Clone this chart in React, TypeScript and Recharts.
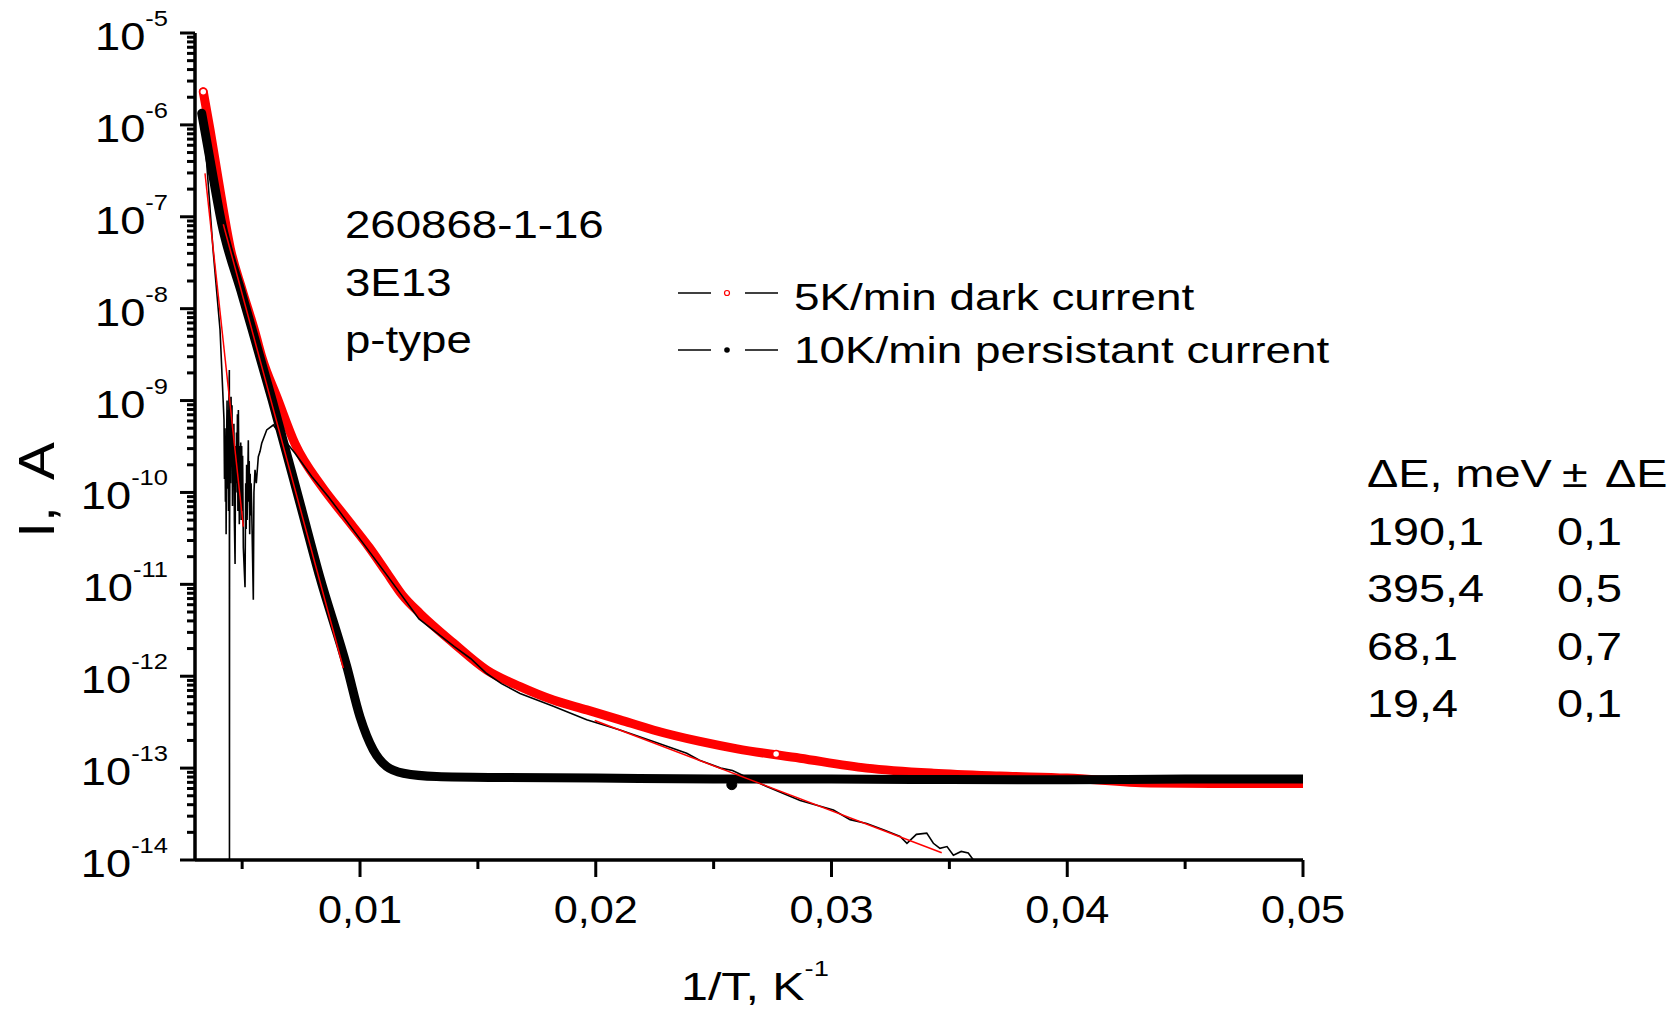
import React from "react";
import { ComposedChart, Line, XAxis, YAxis } from "recharts";

const FONT = '"Liberation Sans", Arial, Helvetica, sans-serif';
const W = 1679;
const H = 1017;

// 5K/min dark current (red open circles), I [A] vs 1/T [K^-1]
const darkT = [
  0.00335, 0.00364, 0.00399, 0.0045, 0.005, 0.00555, 0.00583, 0.0065, 0.00724,
  0.00838, 0.00936, 0.0104, 0.0111, 0.0118, 0.01255, 0.01396, 0.01537, 0.01679,
  0.0182, 0.01962, 0.02103, 0.02244, 0.02442, 0.026, 0.02867, 0.03149, 0.03432,
  0.03715, 0.03998, 0.04351, 0.04704, 0.05,
];
const darkI = [
  2.3e-6, 8.8e-7, 2.5e-7, 4.5e-8, 1.6e-8, 5.5e-9, 3.0e-9, 1.05e-9, 3.4e-10,
  1.16e-10, 5.5e-11, 2.5e-11, 1.38e-11, 7.6e-12, 4.8e-12, 2.3e-12, 1.17e-12,
  7.7e-13, 5.5e-13, 4.3e-13, 3.35e-13, 2.6e-13, 1.95e-13, 1.62e-13, 1.28e-13,
  1.0e-13, 8.8e-14, 8.2e-14, 7.8e-14, 6.9e-14, 6.8e-14, 6.8e-14,
];
// a few single hollow markers that stand out of the red band
const darkMarkT = [0.00335, 0.02765];
const darkMarkI = [2.3e-6, 1.42e-13];

// 10K/min persistant current (black dots)
const persistT = [
  0.003285, 0.00364, 0.00413, 0.005, 0.00627, 0.0075, 0.0083, 0.00944, 0.01,
  0.01056, 0.01113, 0.01184, 0.01325, 0.016, 0.02, 0.025, 0.03, 0.035, 0.04,
  0.045, 0.05,
];
const persistI = [
  1.34e-6, 4.15e-7, 8.5e-8, 1.41e-8, 1.02e-9, 6.9e-11, 1.19e-11, 1.27e-12,
  3.6e-13, 1.58e-13, 1.04e-13, 8.8e-14, 8.1e-14, 7.9e-14, 7.8e-14, 7.6e-14,
  7.6e-14, 7.5e-14, 7.45e-14, 7.6e-14, 7.6e-14,
];
const persistMarkT = [0.02577];
const persistMarkI = [6.6e-14];

// thin black trace (unlabelled measurement)
const traceT = [
  0.003285, 0.003497, 0.003765, 0.004062, 0.00423, 0.00425, 0.00427, 0.00429,
  0.00431, 0.00432, 0.00434, 0.00436, 0.00438, 0.0044, 0.00442, 0.00444,
  0.004457, 0.004462, 0.004466, 0.00449, 0.00451, 0.00453, 0.00455, 0.00457,
  0.00459, 0.00461, 0.00463, 0.00465, 0.00467, 0.0047, 0.00472, 0.00474,
  0.00476, 0.00478, 0.0048, 0.00482, 0.00484, 0.00486, 0.00488, 0.0049,
  0.00492, 0.00494, 0.00496, 0.00498, 0.005, 0.00502, 0.00505, 0.005122,
  0.00515, 0.00517, 0.00519, 0.00521, 0.005262, 0.00528, 0.0053, 0.00532,
  0.00534, 0.00536, 0.00538, 0.005406, 0.005474, 0.0055, 0.005546, 0.0056,
  0.005686, 0.00576, 0.00583, 0.006042, 0.006322, 0.006679, 0.007243,
  0.007951, 0.008656, 0.0094, 0.0111, 0.0125, 0.014, 0.0147, 0.01537, 0.016,
  0.016787, 0.0182, 0.019616, 0.021029, 0.022441, 0.023858, 0.0244, 0.0253,
  0.0258, 0.02725, 0.02867, 0.03008, 0.03079, 0.03149, 0.0322, 0.03291,
  0.0332, 0.0336, 0.03404, 0.03432, 0.0346, 0.0349, 0.03517, 0.0355, 0.0358,
  0.03602,
];
const traceI = [
  1.34e-6, 3.8e-7, 4.4e-8, 5.9e-9, 6.2e-10, 1.4e-10, 5.0e-10, 7.9e-11, 2.8e-10,
  3.5e-11, 4.0e-10, 1.0e-9, 1.1e-10, 7.9e-10, 6.3e-11, 1.26e-9, 2.15e-9,
  1.0e-14, 3.2e-11, 6.3e-10, 1.26e-10, 1.1e-9, 2.5e-10, 8.9e-10, 7.1e-11,
  5.0e-10, 1.26e-10, 5.6e-10, 5.0e-11, 1.66e-11, 3.2e-10, 1.0e-10, 4.5e-10,
  1.26e-10, 7.1e-10, 6.3e-11, 7.9e-10, 2.0e-10, 4.5e-11, 3.2e-10, 7.9e-11,
  3.5e-10, 5.0e-11, 3.2e-10, 6.3e-11, 2.5e-10, 2.5e-11, 9.3e-12, 1.26e-10,
  4.0e-11, 2.0e-10, 5.0e-11, 3.7e-10, 7.9e-11, 2.2e-10, 3.5e-11, 1.6e-10,
  5.6e-11, 1.26e-10, 6.5e-11, 6.8e-12, 1.0e-10, 1.76e-10, 1.26e-10, 2.45e-10,
  2.8e-10, 3.43e-10, 4.79e-10, 5.42e-10, 4.05e-10, 2.67e-10, 1.49e-10,
  9.0e-11, 5.0e-11, 1.3e-11, 4.2e-12, 2.1e-12, 1.55e-12, 1.07e-12, 8.3e-13,
  6.5e-13, 4.7e-13, 3.35e-13, 2.6e-13, 1.95e-13, 1.45e-13, 1.22e-13, 1.0e-13,
  9.4e-14, 6.3e-14, 4.45e-14, 3.5e-14, 2.75e-14, 2.5e-14, 2.13e-14, 1.8e-14,
  1.52e-14, 1.9e-14, 1.96e-14, 1.52e-14, 1.34e-14, 1.4e-14, 1.13e-14, 1.24e-14,
  1.19e-14, 1.0e-14,
];

// Arrhenius fits (thin red lines), end points
const fit1T = [0.003425, 0.00505];
const fit1I = [2.97e-7, 4.25e-11];
const fit2T = [0.0042, 0.00929];
const fit2I = [8.3e-8, 1.23e-12];
const fit3T = [0.0071, 0.012];
const fit3I = [3.5e-10, 7.3e-12];
const fit4T = [0.019954, 0.034676];
const fit4I = [3.3e-13, 1.2e-14];

// fit table
const energies = ["190,1", "395,4", "68,1", "19,4"];
const errors = ["0,1", "0,5", "0,7", "0,1"];

// axes
const xTicks = [0.005, 0.01, 0.015, 0.02, 0.025, 0.03, 0.035, 0.04, 0.045, 0.05];
const xTickLabels: Record<string, string> = {
  "0.01": "0,01",
  "0.02": "0,02",
  "0.03": "0,03",
  "0.04": "0,04",
  "0.05": "0,05",
};
const yDecades = [-14, -13, -12, -11, -10, -9, -8, -7, -6, -5];
const yMinor = [2, 3, 4, 5, 6, 7, 8, 9];

const yTicks: number[] = [];
yDecades.forEach((e) => {
  yTicks.push(Number(`1e${e}`));
  if (e < -5) yMinor.forEach((m) => yTicks.push(Number(`${m}e${e}`)));
});

const pts = (xs: number[], ys: number[]) => xs.map((x, i) => ({ x, i: ys[i] }));

function YTick(props: any) {
  const { x, y, payload } = props;
  const e = Math.log10(payload.value);
  const major = Math.abs(e - Math.round(e)) < 1e-6;
  return (
    <g>
      <line x1={x - (major ? 15 : 8)} x2={x} y1={y} y2={y} stroke="#000" strokeWidth={3} />
      {major && (
        <text
          transform={`translate(${x - 27},${y + 17}) scale(1.16,1)`}
          textAnchor="end"
          fontFamily={FONT}
          fill="#000"
        >
          <tspan fontSize={39}>10</tspan>
          <tspan fontSize={22} dy={-24}>
            {String(Math.round(e))}
          </tspan>
        </text>
      )}
    </g>
  );
}

function XTick(props: any) {
  const { x, y, payload } = props;
  const label = xTickLabels[String(payload.value)];
  return (
    <g>
      <line x1={x} x2={x} y1={y} y2={y + (label ? 17 : 9)} stroke="#000" strokeWidth={3} />
      {label && (
        <text
          transform={`translate(${x},${y + 63}) scale(1.11,1)`}
          textAnchor="middle"
          fontFamily={FONT}
          fontSize={39}
          fill="#000"
        >
          {label}
        </text>
      )}
    </g>
  );
}

function Txt({ x, y, size = 39, sx = 1.2, anchor = "start", children }: any) {
  return (
    <text
      transform={`translate(${x},${y}) scale(${sx},1)`}
      textAnchor={anchor}
      fontFamily={FONT}
      fontSize={size}
      fill="#000"
    >
      {children}
    </text>
  );
}

export default function App() {
  return (
    <div style={{ position: "absolute", left: 0, top: 0, width: W, height: H, background: "#fff" }}>
      <ComposedChart width={W} height={H} margin={{ top: 33, right: 376, bottom: 0, left: 0 }}>
        <XAxis
          type="number"
          dataKey="x"
          domain={[0.003, 0.05]}
          ticks={xTicks}
          interval={0}
          allowDataOverflow
          height={157}
          tickSize={0}
          tickMargin={0}
          tickLine={false}
          axisLine={{ stroke: "#000", strokeWidth: 3.5 }}
          tick={(p: any) => <XTick {...p} />}
        />
        <YAxis
          type="number"
          dataKey="i"
          scale="log"
          domain={[1e-14, 1e-5]}
          ticks={yTicks}
          interval={0}
          allowDataOverflow
          width={195}
          tickSize={0}
          tickMargin={0}
          tickLine={false}
          axisLine={{ stroke: "#000", strokeWidth: 3.5 }}
          tick={(p: any) => <YTick {...p} />}
        />
        <Line
          data={pts(darkT, darkI)}
          dataKey="i"
          type="monotone"
          stroke="#ff0000"
          strokeWidth={9}
          strokeLinecap="round"
          strokeLinejoin="round"
          dot={false}
          isAnimationActive={false}
        />
        <Line
          data={pts(darkMarkT, darkMarkI)}
          dataKey="i"
          stroke="none"
          dot={{ r: 3.5, fill: "#fff", stroke: "#ff0000", strokeWidth: 1.5 }}
          isAnimationActive={false}
        />
        <Line
          data={pts(persistT, persistI)}
          dataKey="i"
          type="monotone"
          stroke="#000"
          strokeWidth={9}
          strokeLinecap="round"
          strokeLinejoin="round"
          dot={false}
          isAnimationActive={false}
        />
        <Line
          data={pts(persistMarkT, persistMarkI)}
          dataKey="i"
          stroke="none"
          dot={{ r: 5, fill: "#000", stroke: "#000" }}
          isAnimationActive={false}
        />
        <Line
          data={pts(traceT, traceI)}
          dataKey="i"
          type="linear"
          stroke="#000"
          strokeWidth={1.6}
          dot={false}
          isAnimationActive={false}
        />
        {[
          [fit1T, fit1I],
          [fit2T, fit2I],
          [fit3T, fit3I],
          [fit4T, fit4I],
        ].map(([t, v], k) => (
          <Line
            key={k}
            data={pts(t, v)}
            dataKey="i"
            type="linear"
            stroke="#ff0000"
            strokeWidth={1.5}
            dot={false}
            isAnimationActive={false}
          />
        ))}
      </ComposedChart>

      <svg
        width={W}
        height={H}
        style={{ position: "absolute", left: 0, top: 0, pointerEvents: "none" }}
      >
        {/* axis titles */}
        <text
          transform="translate(54,490) rotate(-90) scale(1.35,1.2)"
          textAnchor="middle"
          fontFamily={FONT}
          fontSize={42}
          wordSpacing={10}
          fill="#000"
        >
          I, A
        </text>
        <text transform="translate(681,1000) scale(1.24,1)" fontFamily={FONT} fill="#000">
          <tspan fontSize={39}>1/T, K</tspan>
          <tspan fontSize={22} dy={-24}>
            -1
          </tspan>
        </text>

        {/* sample info */}
        <Txt x={345} y={238} sx={1.17}>260868-1-16</Txt>
        <Txt x={345} y={296} sx={1.17}>3E13</Txt>
        <Txt x={345} y={353} sx={1.17}>p-type</Txt>

        {/* legend */}
        <line x1={678} x2={711} y1={293} y2={293} stroke="#000" strokeWidth={1.5} />
        <circle cx={727} cy={293} r={2.5} fill="#fff" stroke="#ff0000" strokeWidth={1.2} />
        <line x1={745} x2={778} y1={293} y2={293} stroke="#000" strokeWidth={1.5} />
        <Txt x={794} y={310} size={37} sx={1.24}>5K/min dark current</Txt>
        <line x1={678} x2={711} y1={350} y2={350} stroke="#000" strokeWidth={1.5} />
        <circle cx={727} cy={350} r={2.8} fill="#000" />
        <line x1={745} x2={778} y1={350} y2={350} stroke="#000" strokeWidth={1.5} />
        <Txt x={794} y={363} size={37} sx={1.24}>10K/min persistant current</Txt>

        {/* fit table */}
        <Txt x={1367} y={487}>ΔE, meV</Txt>
        <Txt x={1562} y={487}>±</Txt>
        <Txt x={1605} y={487}>ΔE</Txt>
        {energies.map((e, k) => (
          <Txt key={e} x={1367} y={545 + k * 57.3}>
            {e}
          </Txt>
        ))}
        {errors.map((e, k) => (
          <Txt key={k} x={1557} y={545 + k * 57.3}>
            {e}
          </Txt>
        ))}
      </svg>
    </div>
  );
}
